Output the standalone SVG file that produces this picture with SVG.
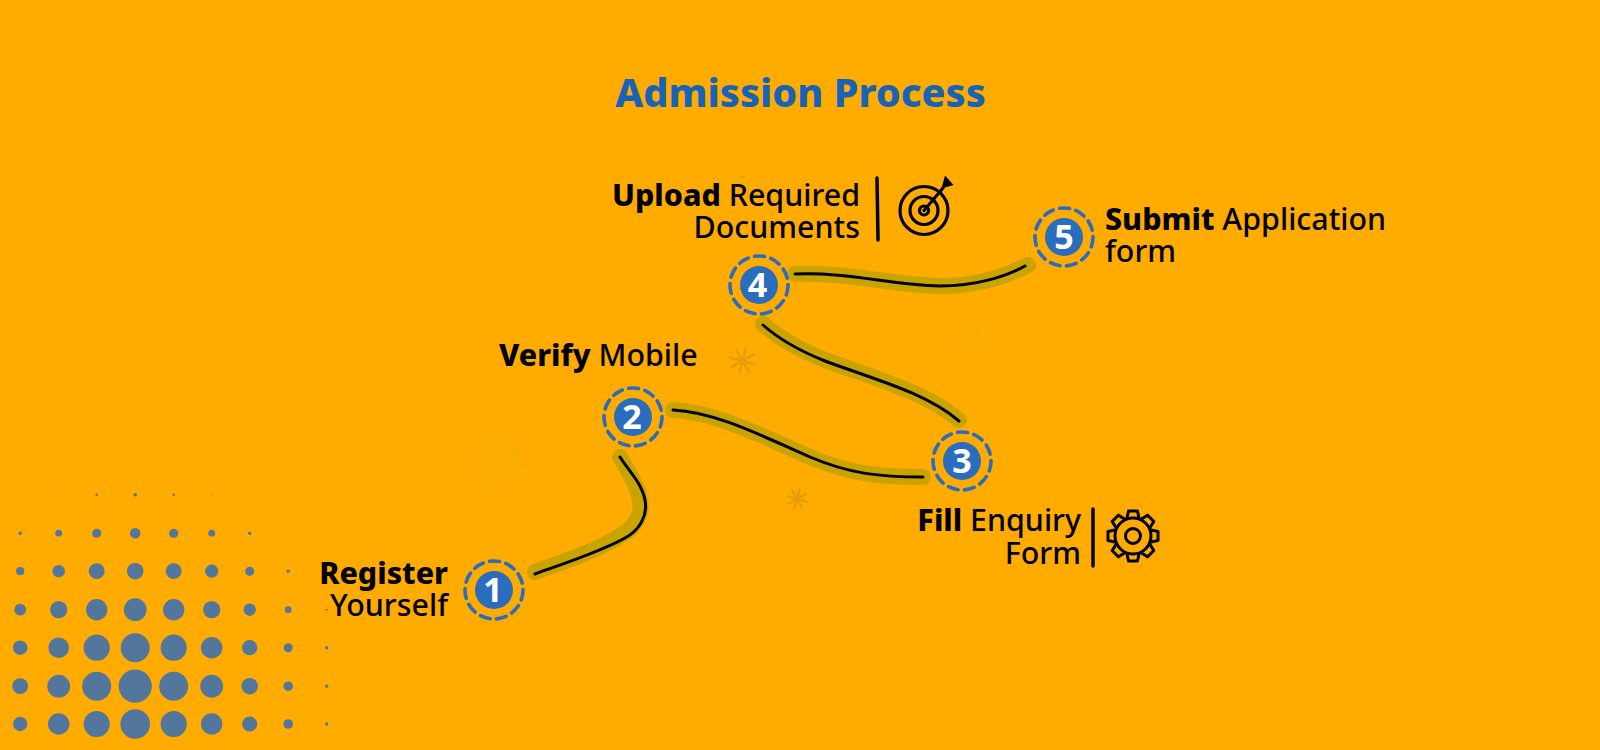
<svg xmlns="http://www.w3.org/2000/svg" width="1600" height="750" viewBox="0 0 1600 750">
<defs>
<style>
text{font-family:"Noto Sans","Open Sans",sans-serif;fill:#000}
.lb{font-size:30.400px;font-weight:500}
.b{font-weight:800}
.n{font-size:34px;font-weight:700;fill:#fff;text-anchor:middle}
.disc{fill:#2a6dbf}
.ring{fill:none;stroke:#2a6dbf;stroke-width:3.600;stroke-dasharray:10 6.500;stroke-linecap:round}
.band{fill:none;stroke:#c9a300;stroke-width:16;stroke-linecap:round}
.wire{fill:none;stroke:#000;stroke-width:3;stroke-linecap:round}
.ink{fill:none;stroke:#000;stroke-width:3.500;stroke-linecap:round;stroke-linejoin:round}
.dots circle{fill:#52769c}
.spark{fill:none;stroke:#e69d0a;stroke-width:2.400;stroke-linecap:round}
.e{text-anchor:end}
</style>
</defs>
<rect width="1600" height="750" fill="#ffab00"/>
<g id="dots" class="dots" transform="translate(.7 .7)">
<circle cx="58" cy="494" r=".5"/><circle cx="96" cy="494" r="1.200"/><circle cx="134.500" cy="494" r="1.800"/><circle cx="173" cy="494" r="1.200"/><circle cx="211" cy="494" r=".5"/>
<circle cx="19.500" cy="532.500" r="1.700"/><circle cx="58" cy="532.500" r="3.400"/><circle cx="96" cy="532.500" r="4.500"/><circle cx="134.500" cy="532.500" r="5.200"/><circle cx="173" cy="532.500" r="4.500"/><circle cx="211" cy="532.500" r="3.400"/><circle cx="249" cy="532.500" r="1.700"/>
<circle cx="19.500" cy="570.500" r="4.100"/><circle cx="58" cy="570.500" r="6.200"/><circle cx="96" cy="570.500" r="7.900"/><circle cx="134.500" cy="570.500" r="8.300"/><circle cx="173" cy="570.500" r="7.900"/><circle cx="211" cy="570.500" r="6.600"/><circle cx="249" cy="570.500" r="4.500"/><circle cx="287.500" cy="570.500" r="1.700"/>
<circle cx="19.500" cy="609" r="5.900"/><circle cx="58" cy="609" r="8.600"/><circle cx="96" cy="609" r="10.700"/><circle cx="134.500" cy="609" r="11.400"/><circle cx="173" cy="609" r="10.700"/><circle cx="211" cy="609" r="8.600"/><circle cx="249" cy="609" r="6.200"/><circle cx="287.500" cy="609" r="3.400"/><circle cx="326" cy="609" r="1"/>
<circle cx="19.500" cy="647" r="7.200"/><circle cx="58" cy="647" r="10.300"/><circle cx="96" cy="647" r="13.100"/><circle cx="134.500" cy="647" r="14.500"/><circle cx="173" cy="647" r="13.100"/><circle cx="211" cy="647" r="10.700"/><circle cx="249" cy="647" r="7.600"/><circle cx="287.500" cy="647" r="4.500"/><circle cx="326" cy="647" r="1.700"/>
<circle cx="19.500" cy="685.500" r="7.900"/><circle cx="58" cy="685.500" r="11.400"/><circle cx="96" cy="685.500" r="14.500"/><circle cx="134.500" cy="685.500" r="16.600"/><circle cx="173" cy="685.500" r="14.500"/><circle cx="211" cy="685.500" r="11.400"/><circle cx="249" cy="685.500" r="8.300"/><circle cx="287.500" cy="685.500" r="4.800"/><circle cx="326" cy="685.500" r="1.700"/>
<circle cx="19.500" cy="723.300" r="7.200"/><circle cx="58" cy="723.300" r="10.700"/><circle cx="96" cy="723.300" r="13.100"/><circle cx="134.500" cy="723.300" r="14.800"/><circle cx="173" cy="723.300" r="13.100"/><circle cx="211" cy="723.300" r="10.700"/><circle cx="249" cy="723.300" r="7.600"/><circle cx="287.500" cy="723.300" r="4.800"/><circle cx="326" cy="723.300" r="1.700"/>
</g>
<g id="sparks">
<path class="spark" transform="translate(742.500 361) rotate(15)" d="M0,-13V13M-13,0H13M-9,-9L9,9M9,-9L-9,9"/>
<path class="spark" transform="translate(797 499) rotate(15)" d="M0,-10V10M-10,0H10M-7,-7L7,7M7,-7L-7,7"/>
<path d="M493,437L499,449L522,448L510,462L522,475L503,472L492,485L488,471L475,462L491,452Z" fill="none" stroke="#f5ad03" stroke-width="4" stroke-linejoin="round"/>
<path d="M963,323L968,328L982,327L975,335L982,342L975,343L969,352L965,344L957,337L963,332Z" fill="none" stroke="#f9ac01" stroke-width="4" stroke-linejoin="round"/>
</g>
<text id="title" x="800.500" y="107" text-anchor="middle" style="font-size:39.600px;font-weight:800;fill:#1763b8">Admission Process</text>
<g id="connectors">
<path class="band" d="M535,572C565,561 596,551 620,536C635,528 643,514 640,500C637,483 627,470 620,457"/>
<path class="wire" d="M535,574C565,563 600,552 625,538C640,530 648,515 645,500C642,483 628,470 620,457"/>
<path class="band" d="M673,410C715,412 760,435 810,457C850,474 880,477 923,477"/>
<path class="wire" d="M673,410C715,412 760,435 810,457C850,474 880,477 923,477"/>
<path class="band" d="M763,324C780,339 800,350 825,360C870,377 925,391 959,420"/>
<path class="wire" d="M763,325C780,340 800,351 825,361C870,378 925,392 959,421"/>
<path class="band" d="M795,274C850,272 890,285 940,286C975,286 1005,277 1028,265"/>
<path class="wire" d="M795,274C850,272 890,285 940,286C975,286 1005,277 1025,266"/>
</g>
<g id="node1">
<circle class="ring" cx="494" cy="590" r="29"/><circle class="disc" cx="494" cy="590" r="19"/><text class="n" x="493" y="602">1</text>
<text class="lb e"><tspan class="b" x="448" y="584">Register</tspan><tspan x="448" y="616">Yourself</tspan></text>
</g>
<g id="node2">
<circle class="ring" cx="633" cy="417" r="29"/><circle class="disc" cx="633" cy="417" r="19"/><text class="n" x="632" y="429">2</text>
<text class="lb" x="499" y="366"><tspan class="b">Verify</tspan> Mobile</text>
</g>
<g id="node3">
<circle class="ring" cx="962" cy="461" r="29"/><circle class="disc" cx="962" cy="461" r="19"/><text class="n" x="962" y="473">3</text>
<text class="lb e"><tspan x="1081" y="531"><tspan class="b">Fill</tspan> Enquiry</tspan><tspan x="1081" y="564">Form</tspan></text>
<path class="ink" d="M1093,509V566"/>
<g class="ink" style="stroke-width:3" transform="translate(1133 536)">
<circle r="18"/><circle r="7.500"/>
<path d="M-6,-18L-4.500,-25H4.500L6,-18"/>
<path d="M-6,-18L-4.500,-25H4.500L6,-18" transform="rotate(45)"/>
<path d="M-6,-18L-4.500,-25H4.500L6,-18" transform="rotate(90)"/>
<path d="M-6,-18L-4.500,-25H4.500L6,-18" transform="rotate(135)"/>
<path d="M-6,-18L-4.500,-25H4.500L6,-18" transform="rotate(180)"/>
<path d="M-6,-18L-4.500,-25H4.500L6,-18" transform="rotate(225)"/>
<path d="M-6,-18L-4.500,-25H4.500L6,-18" transform="rotate(270)"/>
<path d="M-6,-18L-4.500,-25H4.500L6,-18" transform="rotate(315)"/>
</g>
</g>
<g id="node4">
<circle class="ring" cx="759" cy="285" r="29"/><circle class="disc" cx="759" cy="285" r="19"/><text class="n" x="757.500" y="297">4</text>
<text class="lb e"><tspan x="860" y="206"><tspan class="b">Upload</tspan> Required</tspan><tspan x="860" y="238">Documents</tspan></text>
<path class="ink" d="M877,178L878,240"/>
<g class="ink" style="stroke-width:3.200">
<circle cx="924" cy="210.500" r="24"/><circle cx="924" cy="210.500" r="14"/><circle cx="924" cy="210.500" r="4.500"/>
<path d="M924,210.500L943,188"/>
</g>
<path d="M945,175.500L953.500,185L941.500,188.500Z" fill="#000"/>
</g>
<g id="node5">
<circle class="ring" cx="1064" cy="237" r="29"/><circle class="disc" cx="1064" cy="237" r="19"/><text class="n" x="1064" y="249">5</text>
<text class="lb"><tspan x="1105" y="230"><tspan class="b">Submit</tspan> Application</tspan><tspan x="1105" y="262">form</tspan></text>
</g>
</svg>
